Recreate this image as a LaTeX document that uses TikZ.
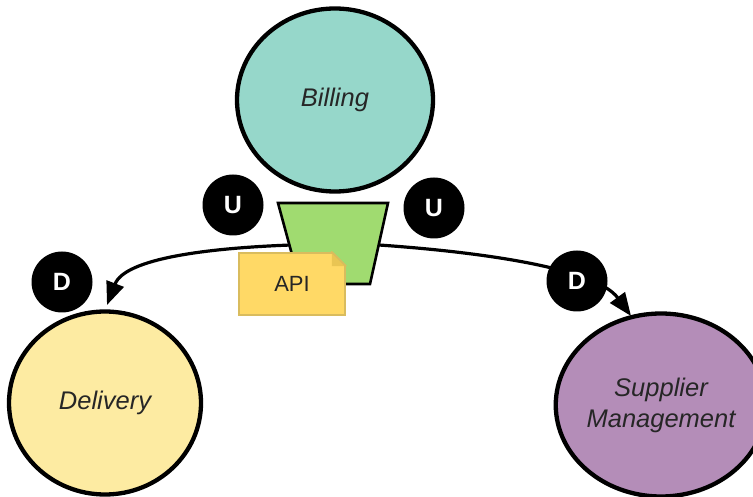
\documentclass[tikz,border=0pt]{standalone}
\usepackage{fontspec}
\setmainfont{Liberation Sans}
\usetikzlibrary{shapes.geometric,arrows.meta,calc}
\definecolor{billc}{HTML}{96D7CA}
\definecolor{gwc}{HTML}{A0DB70}
\definecolor{delc}{HTML}{FDEBA2}
\definecolor{supc}{HTML}{B48DB8}
\definecolor{apic}{HTML}{FFD966}
\definecolor{apib}{HTML}{D9BC5E}
\definecolor{apif}{HTML}{E9C553}
\tikzset{
  ctx/.style={ellipse, draw=black, line width=4.3pt, inner sep=0pt, font=\fontsize{25.5}{31}\selectfont\itshape, align=center, text=black!85},
  badge/.style={circle, fill=black, minimum size=61pt, inner sep=0pt, text=white, font=\fontsize{25}{25}\selectfont\bfseries},
  conn/.style={line width=3.2pt, -{Triangle[length=23pt,width=18pt]}},
  gwshape/.style={draw=black, line width=2.6pt, fill=gwc, line join=miter},
}
\begin{document}
\begin{tikzpicture}[x=1pt,y=-1pt]
\useasboundingbox (0,0) rectangle (753,497);
% gateway corners
\coordinate (gwTL) at (278,203);
\coordinate (gwTR) at (388,203);
\coordinate (gwBR) at (370,284);
\coordinate (gwBL) at (300,284);
% connectors
\coordinate (gwL) at (291,245);
\coordinate (gwR) at (379,245);
\coordinate (delT) at (107,305);
\coordinate (supT) at (631,316);
\draw[conn] (gwL) .. controls (210,248) and (125,258) .. (delT);
\draw[conn] (gwR) .. controls (480,252) and (596,268) .. (supT);
% contexts
\node[ctx, fill=billc, minimum width=196pt, minimum height=183pt] (bill) at (335,100) {Billing};
\node[ctx, fill=delc, minimum width=192pt, minimum height=183pt] (del) at (105,403) {Delivery};
\node[ctx, fill=supc, minimum width=182pt, minimum height=183pt] (sup) at (661,405) {Supplier\\Management};
% gateway
\draw[gwshape] (gwTL) -- (gwTR) -- (gwBR) -- (gwBL) -- cycle;
% API note
\node[rectangle, draw=apib, line width=1.8pt, fill=apic, minimum width=106pt, minimum height=62pt,
  font=\fontsize{22}{22}\selectfont, text=black!85] (api) at (292,284) {API};
\fill[gwc] ($(api.north east)+(-14,-0.9)$) -- ($(api.north east)+(0.9,-0.9)$) -- ($(api.north east)+(0.9,14)$) -- cycle;
\fill[apif] ($(api.north east)+(-14,-0.9)$) -- ($(api.north east)+(0.9,14)$) -- ($(api.north east)+(-14,14)$) -- cycle;
\draw[apib, line width=1.8pt] ($(api.north east)+(-14,0)$) -- ($(api.north east)+(0,14)$);
\draw[apib, line width=1.8pt] ($(api.north east)+(-14.9,0)$) -- ($(api.north east)+(-14,0)$);
% badges
\node[badge] (u1) at (233,205) {U};
\node[badge] (u2) at (434,208) {U};
\node[badge] (d1) at (62,282) {D};
\node[badge] (d2) at (577,281) {D};
\end{tikzpicture}
\end{document}
